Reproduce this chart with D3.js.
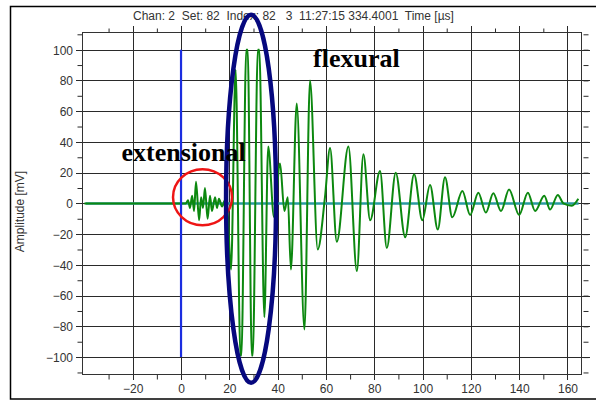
<!DOCTYPE html>
<html>
<head>
	<title>Amplitude</title>
	<script src="https://cdn.jsdelivr.net/npm/d3@7"></script>
	<style>
		body { margin: 0; background: #fff; }
	</style>
</head>
<body>
<script type="text/javascript">
	// signal, time in µs and amplitude in mV
	var times = [-40, 2, 2.9, 3.7, 4.6, 5.4, 6.2, 7.5, 8.3, 9.1, 9.9, 11.0, 12.0, 12.8, 14.1, 14.9, 15.7, 17.0, 18.2, 19.0,
		20.7, 22.6, 24.6, 25.0, 27.0, 27.6, 29.3, 29.7, 31.8, 32.4, 34.5, 36.1, 38.5, 41.0, 42.8, 44.2, 45.5, 47.9, 51.1, 53.4,
		56.6, 59.6, 61.7, 64.5, 69.3, 72.8, 75.5, 78.3, 82.4, 85.2, 88.9, 92.8, 96.5, 99.9, 103.1, 106.3, 109.3, 112.3,
		116.5, 119.7, 123.1, 126.2, 129.3, 132.5, 135.8, 140.0, 143.6, 146.6, 150.4, 152.8, 156.0, 158.3, 161.8, 164.5];
	var amplitudes = [0, 0, 2, -3, 5, -5, 14, -11, 4, -3, 10, -10, 5, -5, 4, -3, 3, -2, 2, 0,
		-43, 87, -99, -99, 100, 100, -99, -99, 100, 100, -74, 37, -9, 26, -5, 4, -43, 65, -82, 80,
		-30, 4, 36, -25, 37, -44, 32, -11, 21, -29, 20, -22, 19, -11, 12, -17, 17, -9,
		8, -7.5, 7, -6, 6.6, -5, 9, -7.5, 7, -5, 5, -4, 5.5, 0, -1.5, 3];

	var majorX = [-20, 0, 20, 40, 60, 80, 100, 120, 140, 160];
	var minorX = [-30, -10, 10, 30, 50, 70, 90, 110, 130, 150];
	var majorY = [-100, -80, -60, -40, -20, 0, 20, 40, 60, 80, 100];
	var minorY = [-110, -90, -70, -50, -30, -10, 10, 30, 50, 70, 90, 110];

	var header = "Chan: 2  Set: 82  Index: 82   3  11:27:15 334.4001  Time [\u00b5s]";
	var yTitle = "Amplitude [mV]";

	var svgWidth = 596, svgHeight = 401;
	var pLeft = 82, pRight = 581, pTop = 32, pBottom = 374;
	var sans = "Liberation Sans, Arial, sans-serif",
		serif = "Liberation Serif, Times New Roman, serif";

	var svg = d3.select("body").append("svg")
		.attr("width", svgWidth)
		.attr("height", svgHeight);

	var x = d3.scaleLinear().domain([-41, 165.6]).range([pLeft, pRight]);
	var y = d3.scaleLinear().domain([-111, 111.5]).range([pBottom, pTop]);

	// outer frame
	svg.append("rect")
		.attr("x", 10.5).attr("y", 6.5)
		.attr("width", 590).attr("height", 392.5)
		.attr("fill", "none").attr("stroke", "#000").attr("stroke-width", 1.5);

	svg.append("text")
		.attr("x", 133).attr("y", 19.5)
		.style("font-family", sans).style("font-size", "12px").style("white-space", "pre")
		.attr("fill", "#333")
		.text(header);

	// grid lines, the major ones reach past the frame
	var grid = svg.append("g").attr("stroke", "#2a2a2a").attr("stroke-width", 1);
	grid.selectAll(".vx").data(majorX).enter().append("line")
		.attr("x1", function(d){ return Math.round(x(d)) + 0.5; })
		.attr("x2", function(d){ return Math.round(x(d)) + 0.5; })
		.attr("y1", 26).attr("y2", 380);
	grid.selectAll(".hy").data(majorY).enter().append("line")
		.attr("y1", function(d){ return Math.round(y(d)) + 0.5; })
		.attr("y2", function(d){ return Math.round(y(d)) + 0.5; })
		.attr("x1", 76).attr("x2", 590);

	// minor ticks on all four sides
	function minor(g) {
		g.select(".domain").remove();
		g.selectAll("line").attr("stroke", "#2a2a2a");
	}
	svg.append("g").attr("transform", "translate(0," + (pTop + 0.5) + ")")
		.call(d3.axisTop(x).tickValues(minorX).tickSize(4).tickFormat("")).call(minor);
	svg.append("g").attr("transform", "translate(0," + (pBottom + 0.5) + ")")
		.call(d3.axisBottom(x).tickValues(minorX).tickSize(5).tickFormat("")).call(minor);
	svg.append("g").attr("transform", "translate(" + (pLeft + 0.5) + ",0)")
		.call(d3.axisLeft(y).tickValues(minorY.filter(function(d){ return Math.abs(d) < 111; })).tickSize(5).tickFormat("")).call(minor);
	svg.append("g").attr("transform", "translate(583.5,0)")
		.call(d3.axisRight(y).tickValues(minorY.concat(majorY).filter(function(d){ return Math.abs(d) < 111; })).tickSize(5).tickFormat("")).call(minor);

	// plot frame
	svg.append("rect")
		.attr("x", pLeft + 0.5).attr("y", pTop + 0.5)
		.attr("width", pRight - pLeft).attr("height", pBottom - pTop)
		.attr("fill", "none").attr("stroke", "#333").attr("stroke-width", 1);

	// tick labels
	var xLab = svg.append("g").attr("transform", "translate(0," + pBottom + ")")
		.call(d3.axisBottom(x).tickValues(majorX).tickSize(0).tickFormat(d3.format("d")));
	xLab.select(".domain").remove();
	xLab.selectAll("text").attr("y", 19).attr("dy", 0)
		.style("font-size", "12px").style("font-family", sans).attr("fill", "#333");

	var yLab = svg.append("g").attr("transform", "translate(" + pLeft + ",0)")
		.call(d3.axisLeft(y).tickValues(majorY).tickSize(0).tickFormat(d3.format("d")));
	yLab.select(".domain").remove();
	yLab.selectAll("text").attr("x", -9).attr("dy", "0.36em")
		.style("font-size", "12px").style("font-family", sans).attr("fill", "#333");

	svg.append("text")
		.attr("transform", "translate(24,211.5) rotate(-90)")
		.attr("text-anchor", "middle")
		.style("font-size", "12px").style("font-family", sans).attr("fill", "#333")
		.text(yTitle);

	// zero reference line
	svg.append("line")
		.attr("x1", x(-39.5)).attr("x2", x(164.6))
		.attr("y1", y(0)).attr("y2", y(0))
		.attr("stroke", "#2a9aa0").attr("stroke-width", 2.5);

	// signal
	var pts = times.map(function(t, i){ return [t, amplitudes[i]]; });
	var line = d3.line()
		.x(function(d){ return x(d[0]); })
		.y(function(d){ return y(d[1]); })
		.curve(d3.curveMonotoneX);
	svg.append("path")
		.datum(pts)
		.attr("d", line)
		.attr("fill", "none")
		.attr("stroke", "#0c880f")
		.attr("stroke-width", 2)
		.attr("stroke-linejoin", "round");

	// trigger marker at t = 0
	svg.append("line")
		.attr("x1", x(0)).attr("x2", x(0))
		.attr("y1", y(100)).attr("y2", y(-100))
		.attr("stroke", "#1b2de0").attr("stroke-width", 2.2);

	// annotations
	svg.append("ellipse")
		.attr("cx", x(8.9)).attr("cy", y(4))
		.attr("rx", 29.5).attr("ry", 28)
		.attr("fill", "none").attr("stroke", "#ee1515").attr("stroke-width", 2.5);

	svg.append("ellipse")
		.attr("cx", x(29)).attr("cy", y(3))
		.attr("rx", 25).attr("ry", 184)
		.attr("fill", "none").attr("stroke", "#06087e").attr("stroke-width", 4.5);

	svg.append("text")
		.attr("x", 121.5).attr("y", 160.5)
		.style("font-family", serif).style("font-weight", "bold").style("font-size", "26px")
		.text("extensional");

	svg.append("text")
		.attr("x", 313).attr("y", 66.5)
		.style("font-family", serif).style("font-weight", "bold").style("font-size", "26px")
		.text("flexural");
</script>
</body>
</html>
